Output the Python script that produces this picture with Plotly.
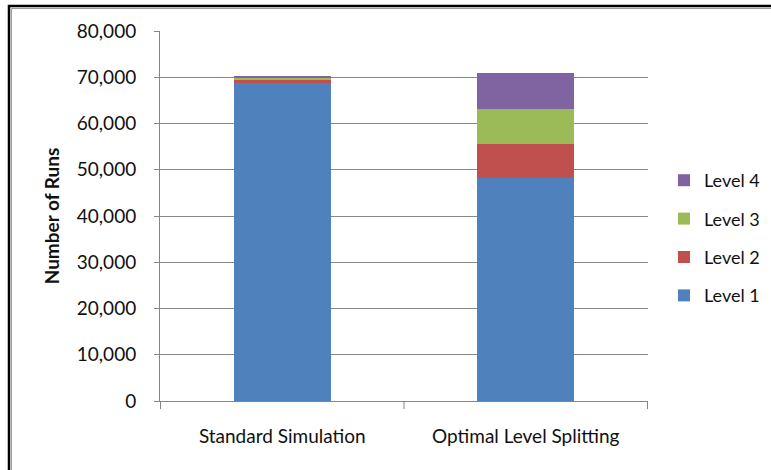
import plotly.graph_objects as go

# Run counts per splitting level for each method
categories = ["Standard Simulation", "Optimal Level Splitting"]
level_names = ["Level 1", "Level 2", "Level 3", "Level 4"]
level_1 = [68800, 48300]
level_2 = [800, 7300]
level_3 = [400, 7500]
level_4 = [250, 7900]
tick_values = [0, 10000, 20000, 30000, 40000, 50000, 60000, 70000, 80000]
tick_labels = ["0", "10,000", "20,000", "30,000", "40,000", "50,000", "60,000", "70,000", "80,000"]

colors = ["#4F81BD", "#C0504D", "#9BBB59", "#8064A2"]
FONT = "Lato, Liberation Sans, sans-serif"

fig = go.Figure()
series = [level_1, level_2, level_3, level_4]
for i, (name, vals, col) in enumerate(zip(level_names, series, colors)):
    fig.add_trace(go.Bar(
        x=categories, y=vals, name=name, legendgroup=name,
        legendrank=len(series) - i,  # top level listed first
        marker=dict(color=col, line=dict(width=0)),
    ))

# plot area in pixels: x 160..648, y 31..401
L, R, T, B = 160, 123, 31, 69
W, H = 771 - L - R, 470 - T - B

def px(x):
    return (x - L) / W

def py(y):
    return (470 - B - y) / H

shapes = [
    dict(type="rect", xref="paper", yref="paper",
         x0=px(9), x1=px(800), y0=py(6), y1=py(520),
         line=dict(color="black", width=2.5), fillcolor="rgba(0,0,0,0)", layer="above"),
    dict(type="rect", xref="paper", yref="paper",
         x0=px(11.5), x1=px(800), y0=py(8.5), y1=py(520),
         line=dict(color="#9a9a9a", width=1), fillcolor="rgba(0,0,0,0)", layer="above"),
]

fig.update_layout(
    width=771, height=470,
    margin=dict(l=L, r=R, t=T, b=B, pad=0, autoexpand=False),
    paper_bgcolor="white", plot_bgcolor="white",
    barmode="stack", bargap=0.6,
    font=dict(family=FONT, size=19, color="#111111"),
    shapes=shapes,
    showlegend=True,
    legend=dict(
        x=px(664), xanchor="left", y=py(238), yanchor="middle",
        traceorder="grouped", tracegroupgap=12,
        font=dict(family=FONT, size=18, color="#111111"),
        bgcolor="rgba(0,0,0,0)",
    ),
    xaxis=dict(
        showline=True, linecolor="#868686", linewidth=1,
        ticks="outside", ticklen=0, tickfont=dict(size=19),
        ticklabelstandoff=18,
        showgrid=False,
    ),
    yaxis=dict(
        range=[0, 80000], tickvals=tick_values, ticktext=tick_labels,
        showline=True, linecolor="#868686", linewidth=1,
        ticks="outside", ticklen=5, tickcolor="#868686",
        ticklabelstandoff=14,
        showgrid=True, gridcolor="#868686", gridwidth=1,
        zeroline=False, tickfont=dict(size=19),
        title=dict(text="<b>Number of Runs</b>", font=dict(size=19), standoff=12),
    ),
)

# category boundary ticks on the x axis
for xb in [-0.5, 0.5, 1.5]:
    fig.add_shape(type="line", xref="x", yref="paper", x0=xb, x1=xb, y0=0, y1=-8 / H,
                  line=dict(color="#868686", width=1))

fig.write_html("out.html")
